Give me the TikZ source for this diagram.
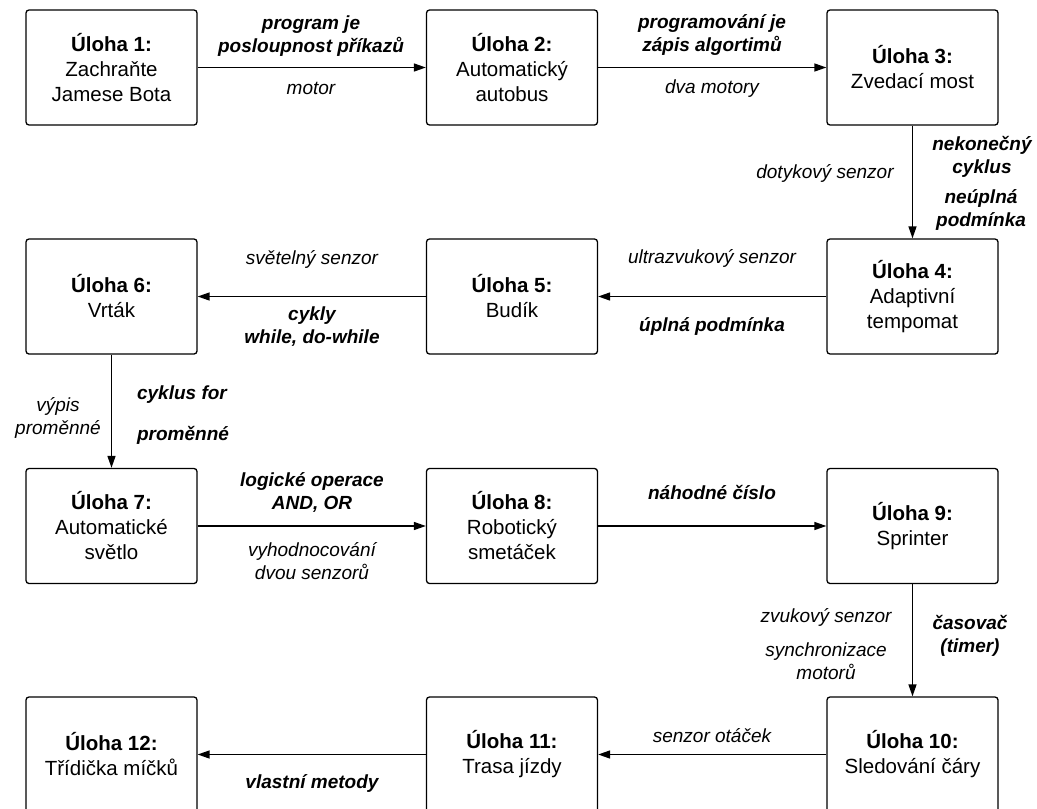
\documentclass[tikz,border=0pt]{standalone}
\usepackage{fontspec}
\setmainfont{Liberation Sans}
\usetikzlibrary{arrows.meta}
\tikzset{
  task/.style={draw, line width=1.3pt, rounded corners=3pt, minimum width=171pt,
    minimum height=115pt, align=center, inner sep=0pt,
    font=\fontsize{20.5}{25}\selectfont},
  lab/.style={align=center, inner sep=0pt, font=\fontsize{19}{23}\selectfont\itshape},
  blab/.style={align=center, inner sep=0pt, font=\fontsize{19}{23}\selectfont\bfseries\itshape},
  conn/.style={line width=1.4pt, -{Triangle[length=12pt,width=8pt]}}
}
\begin{document}
\begin{tikzpicture}[x=1pt, y=-1pt]
\useasboundingbox (0,0) rectangle (1037,809);
\clip (0,0) rectangle (1037,809);
% boxes
\node[task] (b1) at (111.5,67.5) {\textbf{Úloha 1:}\\Zachraňte\\Jamese Bota};
\node[task] (b2) at (512,67.5) {\textbf{Úloha 2:}\\Automatický\\autobus};
\node[task] (b3) at (912.5,67.5) {\textbf{Úloha 3:}\\Zvedací most};
\node[task] (b4) at (912.5,296.5) {\textbf{Úloha 4:}\\Adaptivní\\tempomat};
\node[task] (b5) at (512,296.5) {\textbf{Úloha 5:}\\Budík};
\node[task] (b6) at (111.5,296.5) {\textbf{Úloha 6:}\\Vrták};
\node[task] (b7) at (111.5,526) {\textbf{Úloha 7:}\\Automatické\\světlo};
\node[task] (b8) at (512,526) {\textbf{Úloha 8:}\\Robotický\\smetáček};
\node[task] (b9) at (912.5,526) {\textbf{Úloha 9:}\\Sprinter};
\node[task] (b10) at (912.5,754.5) {\textbf{Úloha 10:}\\Sledování čáry};
\node[task] (b11) at (512,754.5) {\textbf{Úloha 11:}\\Trasa jízdy};
\node[task] (b12) at (111.5,754.5) {\textbf{Úloha 12:}\\Třídička míčků};
% connectors
\draw[conn] (b1) -- (b2);
\draw[conn] (b2) -- (b3);
\draw[conn] (b3) -- (b4);
\draw[conn] (b4) -- (b5);
\draw[conn] (b5) -- (b6);
\draw[conn] (b6) -- (b7);
\draw[conn] (b7) -- (b8);
\draw[conn] (b8) -- (b9);
\draw[conn] (b9) -- (b10);
\draw[conn] (b10) -- (b11);
\draw[conn] (b11) -- (b12);
% labels
\node[blab] (l12a) at (311,36) {program je\\posloupnost příkazů};
\node[lab] (l12b) at (311,88) {motor};
\node[blab] (l23a) at (712,35) {programování je\\zápis algortimů};
\node[lab] (l23b) at (712,89) {dva motory};
\node[lab] (l34a) at (825,173) {dotykový senzor};
\node[blab] (l34b) at (982,157) {nekonečný\\cyklus};
\node[blab] (l34c) at (981,210) {neúplná\\podmínka};
\node[lab] (l45a) at (712,258) {ultrazvukový senzor};
\node[blab] (l45b) at (712,326) {úplná podmínka};
\node[lab] (l56a) at (312,259) {světelný senzor};
\node[blab] (l56b) at (312,327) {cykly\\while, do-while};
\node[lab] (l67a) at (58,418) {výpis\\proměnné};
\node[blab] (l67b) at (182,395) {cyklus for};
\node[blab] (l67c) at (183,435) {proměnné};
\node[blab] (l78a) at (312,492) {logické operace\\AND, OR};
\node[lab] (l78b) at (312,561) {vyhodnocování\\dvou senzorů};
\node[blab] (l89) at (712,492) {náhodné číslo};
\node[lab] (l910a) at (826,617) {zvukový senzor};
\node[lab] (l910b) at (826,661) {synchronizace\\motorů};
\node[blab] (l910c) at (970,636) {časovač\\(timer)};
\node[lab] (l1011) at (712,736) {senzor otáček};
\node[blab] (l1112) at (312,783) {vlastní metody};
\end{tikzpicture}
\end{document}
